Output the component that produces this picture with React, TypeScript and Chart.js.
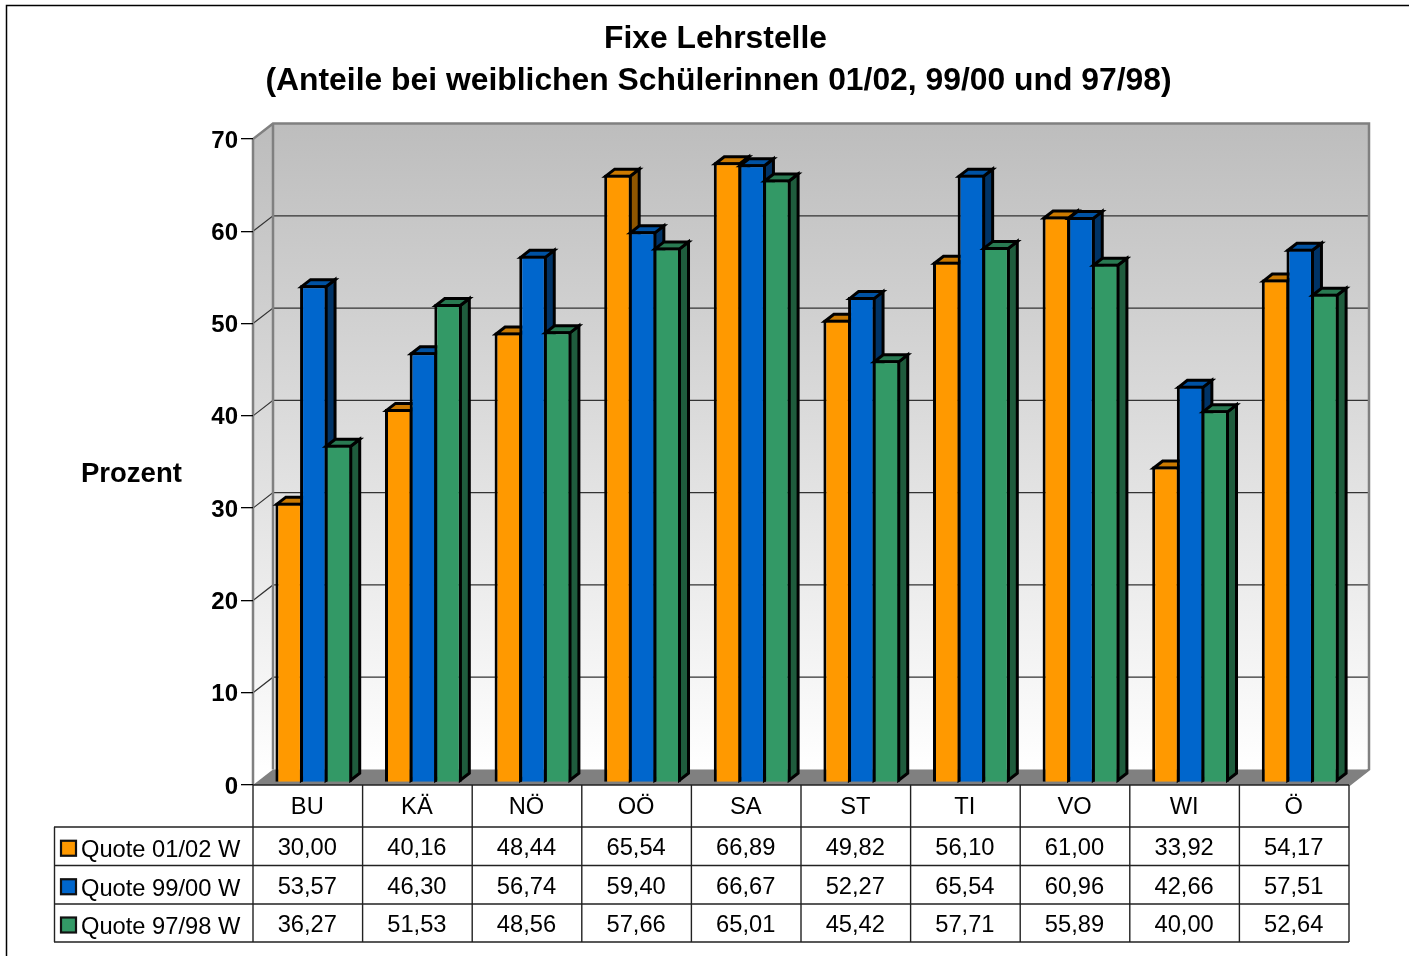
import React, { useEffect, useRef } from "react";
import { Chart, registerables } from "chart.js";

Chart.register(...registerables);

const FONT = "'Liberation Sans', Arial, sans-serif";

const categories = ["BU", "KÄ", "NÖ", "OÖ", "SA", "ST", "TI", "VO", "WI", "Ö"];
const quote0102 = [30.0, 40.16, 48.44, 65.54, 66.89, 49.82, 56.1, 61.0, 33.92, 54.17];
const quote9900 = [53.57, 46.3, 56.74, 59.4, 66.67, 52.27, 65.54, 60.96, 42.66, 57.51];
const quote9798 = [36.27, 51.53, 48.56, 57.66, 65.01, 45.42, 57.71, 55.89, 40.0, 52.64];
const seriesNames = ["Quote 01/02 W", "Quote 99/00 W", "Quote 97/98 W"];
const frontColors = ["#ff9900", "#0066cc", "#339966"];
const topColors = ["#cc7a00", "#0052a3", "#297a52"];
const sideColors = ["#8f5600", "#003366", "#1f5c3d"];
const titleLines = ["Fixe Lehrstelle", "(Anteile bei weiblichen Schülerinnen 01/02, 99/00 und 97/98)"];
const axisLabel = "Prozent";
const seriesValues = [quote0102, quote9900, quote9798];

// 3D projection offsets
const WALL_DX = 20;
const WALL_DY = 15.5;
const BAR_SHIFT_X = 6;
const BAR_SHIFT_Y = 5.5;
const BAR_BASE_VALUE = -0.24;
const BAR_BORDER = 3;
const BAR_DX = 9;
const BAR_DY = 7;
const TABLE_ROWS = [827, 865.5, 904, 942];
const TABLE_LEFT = 54;
const TITLE_CENTERS = [715.5, 718.5];
const TITLE_MIDDLES = [39.5, 81.5];

const scene3d = {
  id: "scene3d",
  beforeDraw(chart: any) {
    const { ctx, chartArea: a, scales } = chart;
    const y = scales.y;
    ctx.save();
    ctx.fillStyle = "#fff";
    ctx.fillRect(0, 0, chart.width, chart.height);
    // page frame
    ctx.strokeStyle = "#000";
    ctx.lineWidth = 1.5;
    ctx.beginPath();
    ctx.moveTo(6.5, chart.height);
    ctx.lineTo(6.5, 5.5);
    ctx.lineTo(chart.width, 5.5);
    ctx.stroke();

    // title
    ctx.fillStyle = "#000";
    ctx.font = `bold 31.85px ${FONT}`;
    ctx.textAlign = "center";
    ctx.textBaseline = "middle";
    titleLines.forEach((line, i) => ctx.fillText(line, TITLE_CENTERS[i], TITLE_MIDDLES[i]));

    const backL = a.left + WALL_DX;
    const backR = a.right + WALL_DX;
    const backT = a.top - WALL_DY;
    const backB = a.bottom - WALL_DY;
    const grad = ctx.createLinearGradient(0, backT, 0, backB);
    grad.addColorStop(0, "#bdbdbd");
    grad.addColorStop(1, "#ffffff");
    // back wall
    ctx.fillStyle = grad;
    ctx.fillRect(backL, backT, backR - backL, backB - backT);
    // left wall
    const gradL = ctx.createLinearGradient(0, a.top - 8, 0, a.bottom - 8);
    gradL.addColorStop(0, "#bdbdbd");
    gradL.addColorStop(1, "#ffffff");
    ctx.fillStyle = gradL;
    ctx.beginPath();
    ctx.moveTo(a.left, a.top);
    ctx.lineTo(backL, backT);
    ctx.lineTo(backL, backB);
    ctx.lineTo(a.left, a.bottom);
    ctx.closePath();
    ctx.fill();
    // floor
    ctx.fillStyle = "#808080";
    ctx.beginPath();
    ctx.moveTo(a.left, a.bottom);
    ctx.lineTo(backL, backB);
    ctx.lineTo(backR, backB);
    ctx.lineTo(a.right, a.bottom);
    ctx.closePath();
    ctx.fill();
    // grid lines
    ctx.strokeStyle = "#333";
    ctx.lineWidth = 1.2;
    y.ticks.forEach((t: any) => {
      if (t.value === 0 || t.value === y.max) return;
      const py = y.getPixelForValue(t.value);
      ctx.beginPath();
      ctx.moveTo(a.left, py);
      ctx.lineTo(backL, py - WALL_DY);
      ctx.lineTo(backR, py - WALL_DY);
      ctx.stroke();
    });
    // wall outlines
    ctx.strokeStyle = "#808080";
    ctx.lineWidth = 2.5;
    ctx.lineJoin = "miter";
    ctx.beginPath();
    ctx.moveTo(a.left, a.bottom);
    ctx.lineTo(a.left, a.top);
    ctx.lineTo(backL, backT);
    ctx.lineTo(backR, backT);
    ctx.lineTo(backR, backB);
    ctx.lineTo(a.right, a.bottom);
    ctx.moveTo(backL, backT);
    ctx.lineTo(backL, backB);
    ctx.stroke();
    ctx.restore();
  },
  beforeDatasetsDraw(chart: any) {
    const { ctx } = chart;
    ctx.save();
    ctx.translate(BAR_SHIFT_X, -BAR_SHIFT_Y);
    ctx.lineJoin = "miter";
    // left-to-right painting so each bar covers its left neighbour's side face
    seriesValues.forEach((_, i) => {
      const meta = chart.getDatasetMeta(i);
      meta.data.forEach((bar: any) => {
        const { x, y, base, width } = bar.getProps(["x", "y", "base", "width"], true);
        const inset = BAR_BORDER / 2;
        const l = x - width / 2 + inset;
        const r = x + width / 2 - inset;
        const t = y + inset;
        const b = base - inset;
        ctx.lineWidth = BAR_BORDER;
        ctx.strokeStyle = "#000";
        ctx.fillStyle = sideColors[i];
        ctx.beginPath();
        ctx.moveTo(r, t);
        ctx.lineTo(r + BAR_DX, t - BAR_DY);
        ctx.lineTo(r + BAR_DX, b - BAR_DY);
        ctx.lineTo(r, b);
        ctx.closePath();
        ctx.fill();
        ctx.stroke();
        ctx.fillStyle = topColors[i];
        ctx.beginPath();
        ctx.moveTo(l, t);
        ctx.lineTo(l + BAR_DX, t - BAR_DY);
        ctx.lineTo(r + BAR_DX, t - BAR_DY);
        ctx.lineTo(r, t);
        ctx.closePath();
        ctx.fill();
        ctx.stroke();
        bar.draw(ctx);
      });
    });
    ctx.restore();
    return false;
  },
  afterDraw(chart: any) {
    const { ctx, chartArea: a, scales } = chart;
    const x = scales.x;
    ctx.save();
    // axis label
    ctx.fillStyle = "#000";
    ctx.font = `bold 27.5px ${FONT}`;
    ctx.textAlign = "left";
    ctx.textBaseline = "middle";
    ctx.fillText(axisLabel, 81, 474.5);

    // data table lines
    const half = (x.getPixelForValue(1) - x.getPixelForValue(0)) / 2;
    ctx.strokeStyle = "#222";
    ctx.lineWidth = 1.4;
    const bottom = TABLE_ROWS[TABLE_ROWS.length - 1];
    ctx.beginPath();
    ctx.moveTo(a.left, a.bottom);
    ctx.lineTo(a.right, a.bottom);
    TABLE_ROWS.forEach((ry) => {
      ctx.moveTo(TABLE_LEFT, ry);
      ctx.lineTo(a.right, ry);
    });
    ctx.moveTo(TABLE_LEFT + 0.5, TABLE_ROWS[0]);
    ctx.lineTo(TABLE_LEFT + 0.5, bottom);
    ctx.moveTo(a.left, a.bottom);
    ctx.lineTo(a.left, bottom);
    categories.forEach((_, c) => {
      const px = x.getPixelForValue(c) + half;
      ctx.moveTo(px, a.bottom);
      ctx.lineTo(px, bottom);
    });
    ctx.stroke();

    // legend column and values
    ctx.font = `23.7px ${FONT}`;
    seriesNames.forEach((name, s) => {
      const top = TABLE_ROWS[s];
      const mid = (top + TABLE_ROWS[s + 1]) / 2;
      ctx.fillStyle = frontColors[s];
      ctx.strokeStyle = "#111";
      ctx.lineWidth = 2.2;
      ctx.fillRect(61, mid - 5.5, 15, 15);
      ctx.strokeRect(61, mid - 5.5, 15, 15);
      ctx.fillStyle = "#000";
      ctx.textAlign = "left";
      ctx.textBaseline = "middle";
      ctx.fillText(name, 81, mid + 4.5);
      ctx.textAlign = "center";
      seriesValues[s].forEach((v, c) => {
        ctx.fillText(v.toFixed(2).replace(".", ","), x.getPixelForValue(c) - 0.5, mid + 2.5);
      });
    });
    ctx.restore();
  },
};

export default function App() {
  const ref = useRef<HTMLCanvasElement>(null);
  useEffect(() => {
    document.body.style.margin = "0";
    const chart = new Chart(ref.current!, {
      type: "bar",
      data: {
        labels: categories,
        datasets: seriesValues.map((data, i) => ({
          label: seriesNames[i],
          data,
          base: BAR_BASE_VALUE,
          backgroundColor: frontColors[i],
          borderColor: "#000",
          borderWidth: BAR_BORDER,
          categoryPercentage: 0.675,
          barPercentage: 1.115,
        })),
      },
      plugins: [scene3d],
      options: {
        animation: false,
        responsive: false,
        devicePixelRatio: 1,
        layout: { padding: { left: 81, right: 60, top: 139, bottom: 0 } },
        plugins: {
          legend: { display: false },
          tooltip: { enabled: false },
          title: { display: false },
        },
        scales: {
          x: {
            grid: { display: false, drawTicks: false },
            border: { display: false },
            ticks: { color: "#000", font: { family: FONT, size: 23.7 }, padding: 8, maxRotation: 0, labelOffset: -0.5 },
            afterFit: (s: any) => {
              s.height = 171;
            },
          },
          y: {
            min: 0,
            max: 70,
            ticks: { stepSize: 10, color: "#000", font: { family: FONT, size: 24, weight: "bold" }, padding: 3, labelOffset: 2 },
            grid: { drawOnChartArea: false, drawTicks: true, tickLength: 12, color: "#000", lineWidth: 1.3 },
            border: { display: false },
            afterFit: (s: any) => {
              s.width = 172;
            },
          },
        },
      },
    });
    return () => chart.destroy();
  }, []);
  return <canvas ref={ref} width={1409} height={956} style={{ display: "block" }} />;
}
